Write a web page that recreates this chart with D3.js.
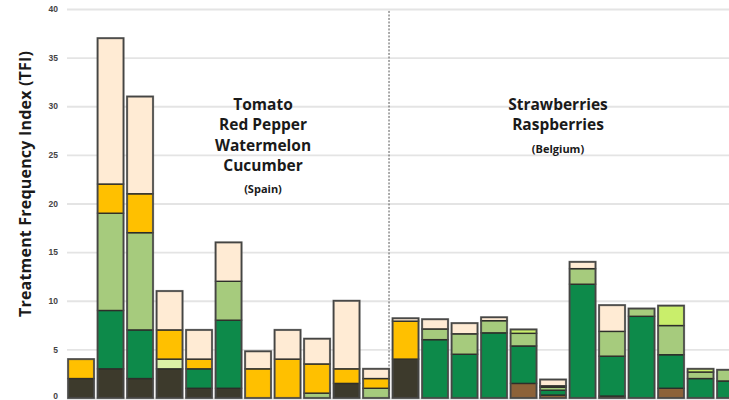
<!DOCTYPE html>
<html>
  <head>
    <meta charset="utf-8">
    <title>Treatment Frequency Index</title>
    <script src="https://d3js.org/d3.v7.min.js"></script>
    <style>
      body { margin: 0; background: #fff; }
      svg { display: block; font-family: "Open Sans", "DejaVu Sans", sans-serif; }
      .tick text { font-size: 8.5px; font-weight: 700; fill: #444; }
      .cropLabel { font-size: 15.5px; font-weight: 700; fill: #1a1a1a; text-anchor: middle; }
      .countryLabel { font-size: 11px; font-weight: 700; fill: #1a1a1a; text-anchor: middle; }
    </style>
  </head>
  <body>
    <svg id="chart" width="729" height="400"></svg>
    <script>
      // data: 11 farms in Spain, 12 in Belgium (last one cut at the edge)
      farms = ["ES1", "ES2", "ES3", "ES4", "ES5", "ES6", "ES7", "ES8", "ES9", "ES10", "ES11",
               "BE1", "BE2", "BE3", "BE4", "BE5", "BE6", "BE7", "BE8", "BE9", "BE10", "BE11", "BE12"];
      // stacked series, bottom to top
      seriesNames = ["olive", "brown", "darkGreen", "paleGreen", "lightGreen", "lime", "yellow", "peach"];
      olive =      [2, 3, 2, 3, 1, 1, 0, 0, 0, 1.5, 0,   4, 0, 0, 0, 0, 0, 0, 0, 0, 0, 0, 0];
      brown =      [0, 0, 0, 0, 0, 0, 0, 0, 0, 0, 0,     0, 0, 0, 0, 1.5, 0.3, 0, 0.2, 0, 1, 0, 0];
      darkGreen =  [0, 6, 5, 0, 2, 7, 0, 0, 0, 0, 0,     0, 6, 4.5, 6.7, 3.85, 0.5, 11.7, 4.1, 8.4, 3.45, 2, 1.75];
      paleGreen =  [0, 0, 0, 1, 0, 0, 0, 0, 0, 0, 0,     0, 0, 0, 0, 0, 0, 0, 0, 0, 0, 0, 0];
      lightGreen = [0, 10, 10, 0, 0, 4, 0, 0, 0.5, 0, 1, 0, 1.1, 2.1, 1.25, 1.3, 0.3, 1.6, 2.55, 0.8, 3, 0.67, 1.15];
      lime =       [0, 0, 0, 0, 0, 0, 0, 0, 0, 0, 0,     0, 0, 0, 0, 0.4, 0.15, 0, 0, 0, 2.05, 0.33, 0];
      yellow =     [2, 3, 4, 3, 1, 0, 3, 4, 3, 1.5, 1,   3.9, 0, 0, 0, 0, 0, 0, 0, 0, 0, 0, 0];
      peach =      [0, 15, 10, 4, 3, 4, 1.8, 3, 2.6, 7, 1, 0.3, 1, 1.1, 0.35, 0, 0.65, 0.7, 2.7, 0, 0, 0, 0];
      yTicks = [0, 5, 10, 15, 20, 25, 30, 35, 40];
      groupLabels = [
        { first: "ES1", last: "ES11", lines: ["Tomato", "Red Pepper", "Watermelon", "Cucumber"], country: "(Spain)" },
        { first: "BE1", last: "BE12", lines: ["Strawberries", "Raspberries"], country: "(Belgium)" }
      ];

      colours = {
        olive: "#3d3a2c", brown: "#8c6239", darkGreen: "#0d8a4a", paleGreen: "#dcf2a8",
        lightGreen: "#a6cb7d", lime: "#c9ee6b", yellow: "#ffc000", peach: "#ffebd4"
      };

      // build table
      columns = { olive, brown, darkGreen, paleGreen, lightGreen, lime, yellow, peach };
      table = farms.map(function(f, i) {
        row = { farm: f };
        seriesNames.forEach(function(s) { row[s] = columns[s][i]; });
        return row;
      });
      stacked = d3.stack().keys(seriesNames)(table);

      svg = d3.select("#chart");
      x = d3.scaleBand()
        .domain(farms)
        .range([66.3, 744.8])
        .paddingInner(0.12)
        .paddingOuter(0.06);
      y = d3.scaleLinear()
        .domain([0, 40])
        .range([398, 9]);

      // grid and axis
      yAxis = d3.axisLeft(y)
        .tickValues(yTicks)
        .tickSize(-(729 - 67))
        .tickPadding(9);
      svg.append("g")
        .attr("transform", "translate(67,0)")
        .call(yAxis)
        .call(function(g) {
          g.select(".domain").remove();
          g.selectAll(".tick line").attr("stroke", "#e4e4e4").attr("stroke-width", 1.8);
          g.selectAll(".tick text").attr("dy", function(d) { return d == 0 ? "0.1em" : "0.32em"; });
        });

      svg.append("text")
        .attr("transform", "translate(31," + y(22) + ") rotate(-90)")
        .attr("text-anchor", "middle")
        .attr("textLength", 266)
        .attr("lengthAdjust", "spacing")
        .style("font-size", "16px")
        .style("font-weight", 700)
        .style("fill", "#1a1a1a")
        .text("Treatment Frequency Index (TFI)");

      // divider between the two regions
      divX = x("ES11") + x.bandwidth();
      svg.append("line")
        .attr("x1", divX).attr("x2", divX)
        .attr("y1", y(39.8)).attr("y2", y(0))
        .attr("stroke", "#555")
        .attr("stroke-width", 1)
        .attr("stroke-dasharray", "2,1.5");

      // bars
      svg.append("g")
        .selectAll("g")
        .data(stacked)
        .join("g")
          .attr("fill", function(d) { return colours[d.key]; })
        .selectAll("rect")
        .data(function(d) { return d.filter(function(p) { return p[1] - p[0] > 0; }); })
        .join("rect")
          .attr("x", function(d) { return x(d.data.farm); })
          .attr("y", function(d) { return y(d[1]); })
          .attr("width", x.bandwidth())
          .attr("height", function(d) { return y(d[0]) - y(d[1]); })
          .attr("stroke", "#2e2e2a")
          .attr("stroke-width", 1.4);

      // outline each whole bar
      svg.append("g")
        .selectAll("rect")
        .data(table)
        .join("rect")
          .attr("x", function(d) { return x(d.farm); })
          .attr("y", function(d) { return y(d3.sum(seriesNames, function(s) { return d[s]; })); })
          .attr("width", x.bandwidth())
          .attr("height", function(d) { return y(0) - y(d3.sum(seriesNames, function(s) { return d[s]; })); })
          .attr("fill", "none")
          .attr("stroke", "#555")
          .attr("stroke-opacity", 0.6)
          .attr("stroke-width", 2.2);

      // region labels
      groupLabels.forEach(function(g) {
        cx = (x(g.first) + x(g.last) + x.bandwidth()) / 2;
        if (g.country == "(Spain)") cx = 263;
        if (g.country == "(Belgium)") cx = 558;
        g.lines.forEach(function(l, i) {
          svg.append("text").attr("class", "cropLabel")
            .attr("x", cx).attr("y", 110 + i * 20.3)
            .text(l);
        });
        svg.append("text").attr("class", "countryLabel")
          .attr("x", cx).attr("y", 110 + (g.lines.length - 1) * 20.3 + 22.5)
          .text(g.country);
      });
    </script>
  </body>
</html>
